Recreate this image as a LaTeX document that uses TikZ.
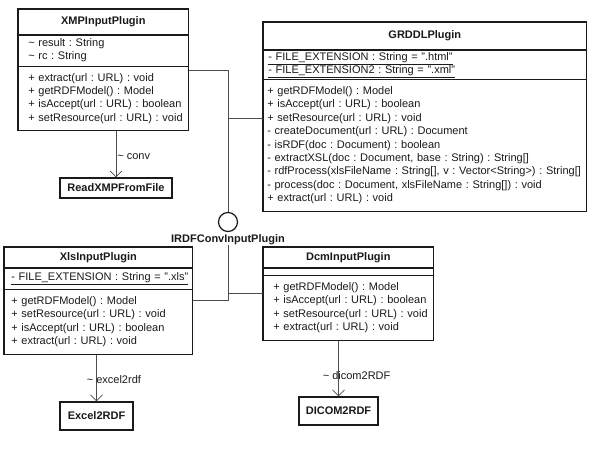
\documentclass[tikz,border=0pt]{standalone}
\usepackage{fontspec}
\setmainfont{Liberation Sans}
\usepackage{tikz}
\usetikzlibrary{arrows.meta,calc,positioning}
\newcommand{\umlfont}{\fontsize{11}{13.4}\selectfont\frenchspacing}
\newcommand{\umlrows}[1]{\begin{tabular}{@{}l@{}}#1\end{tabular}}
\definecolor{umlInk}{HTML}{1A1A1A}
\definecolor{umlWire}{HTML}{4D4D4D}
\tikzset{
  umlframe/.style={draw=umlInk, line width=1.4pt},
  umltitle/.style={draw=umlInk, line width=0.6pt, anchor=north west, inner sep=0pt, font=\umlfont\bfseries},
  umlpart/.style={draw=umlInk, line width=0.6pt, anchor=north west, align=left, inner xsep=10pt, inner ysep=0pt, font=\umlfont},
  plainclass/.style={draw=umlInk, line width=1.4pt, inner sep=0pt, font=\umlfont\bfseries},
  realize/.style={draw=umlWire, line width=0.7pt},
  depend/.style={draw=umlWire, line width=0.7pt, -{Straight Barb[length=6pt,width=12pt]}},
  deplabel/.style={anchor=west, inner sep=0pt, text=umlInk, font=\umlfont},
}
\begin{document}
\begin{tikzpicture}[x=1pt, y=-1pt, text=umlInk]
      \fill[white] (0,0) rectangle (592,470);
      \useasboundingbox (0,0) rectangle (592,470);
      % XMPInputPlugin
      \node[umltitle, minimum width=170pt, minimum height=25pt] (xmp) at (18,9) {XMPInputPlugin};
      \node[umlpart, text width=150pt, minimum height=31pt] (xmpattr) at (xmp.south west)
        {\umlrows{\textasciitilde{} result : String\\\textasciitilde{} rc : String}};
      \node[umlpart, text width=150pt, minimum height=64pt] (xmpops) at (xmpattr.south west)
        {\umlrows{+ extract(url : URL) : void\\+ getRDFModel() : Model\\+ isAccept(url : URL) : boolean\\+ setResource(url : URL) : void}};
      \draw[umlframe] (xmp.north west) rectangle (xmpops.south east);
      % GRDDLPlugin
      \node[umltitle, minimum width=323pt, minimum height=27pt] (grddl) at (263,22) {GRDDLPlugin};
      \node[umlpart, inner xsep=5pt, text width=313pt, minimum height=29pt] (grddlattr) at (grddl.south west)
        {\umlrows{\underline{- FILE\_EXTENSION : String = ".html"}\\\underline{- FILE\_EXTENSION2 : String = ".xml"}}};
      \node[umlpart, inner xsep=4pt, text width=315pt, minimum height=132pt] (grddlops) at (grddlattr.south west)
        {\umlrows{+ getRDFModel() : Model\\+ isAccept(url : URL) : boolean\\+ setResource(url : URL) : void\\
         - createDocument(url : URL) : Document\\- isRDF(doc : Document) : boolean\\
         - extractXSL(doc : Document, base : String) : String[]\\
         - rdfProcess(xlsFileName : String[], v : Vector<String>) : String[]\\
         - process(doc : Document, xlsFileName : String[]) : void\\+ extract(url : URL) : void}};
      \draw[umlframe] (grddl.north west) rectangle (grddlops.south east);
      % XlsInputPlugin
      \node[umltitle, minimum width=188pt, minimum height=20pt] (xls) at (4,247) {XlsInputPlugin};
      \node[umlpart, inner xsep=7pt, text width=174pt, minimum height=21pt] (xlsattr) at (xls.south west)
        {\umlrows{\underline{- FILE\_EXTENSION : String = ".xls"}}};
      \node[umlpart, inner xsep=7pt, text width=174pt, minimum height=65pt] (xlsops) at (xlsattr.south west)
        {\umlrows{+ getRDFModel() : Model\\+ setResource(url : URL) : void\\+ isAccept(url : URL) : boolean\\+ extract(url : URL) : void}};
      \draw[umlframe] (xls.north west) rectangle (xlsops.south east);
      % DcmInputPlugin
      \node[umltitle, minimum width=170pt, minimum height=20pt] (dcm) at (263,247) {DcmInputPlugin};
      \node[umlpart, text width=150pt, minimum height=7pt] (dcmattr) at (dcm.south west) {};
      \node[umlpart, text width=150pt, minimum height=65pt] (dcmops) at (dcmattr.south west)
        {\umlrows{+ getRDFModel() : Model\\+ isAccept(url : URL) : boolean\\+ setResource(url : URL) : void\\+ extract(url : URL) : void}};
      \draw[umlframe] (dcm.north west) rectangle (dcmops.south east);
      % converter classes
      \node[plainclass, minimum width=112pt, minimum height=20pt] (readxmp) at (116,188) {ReadXMPFromFile};
      \node[plainclass, minimum width=73pt, minimum height=28pt] (excelrdf) at (96.5,416) {Excel2RDF};
      \node[plainclass, minimum width=79pt, minimum height=28pt] (dicomrdf) at (338.5,411) {DICOM2RDF};
      % interface lollipop
      \node[draw=umlInk, line width=1.2pt, circle, minimum size=19pt, inner sep=0pt] (iface) at (228,222) {};
      \node[below=2pt of iface, inner sep=0pt, font=\umlfont\bfseries] (ifacelabel) {IRDFConvInputPlugin};
      \coordinate (xmpjoin) at ([yshift=-4pt]xmpops.north east);
      \coordinate (grddljoin) at ([yshift=-39pt]grddlops.north west);
      \coordinate (xlsjoin) at ([yshift=-11pt]xlsops.north east);
      \coordinate (dcmjoin) at ([yshift=-18pt]dcmops.north west);
      \draw[realize] (xmpjoin) -| (iface.north);
      \draw[realize] (grddljoin) -- (grddljoin -| iface);
      \draw[realize] (xlsjoin) -| (iface |- ifacelabel.south);
      \draw[realize] (dcmjoin) -- (dcmjoin -| iface);
      % dependencies
      \draw[depend] (readxmp |- xmpops.south) -- (readxmp.north)
        node[deplabel, pos=0.55, xshift=1pt] {\textasciitilde{} conv};
      \draw[depend] (excelrdf |- xlsops.south) -- (excelrdf.north)
        node[deplabel, pos=0.53, xshift=-10pt] {\textasciitilde{} excel2rdf};
      \draw[depend] (dicomrdf |- dcmops.south) -- (dicomrdf.north)
        node[deplabel, pos=0.62, xshift=-16pt] {\textasciitilde{} dicom2RDF};
    \end{tikzpicture}
\end{document}
